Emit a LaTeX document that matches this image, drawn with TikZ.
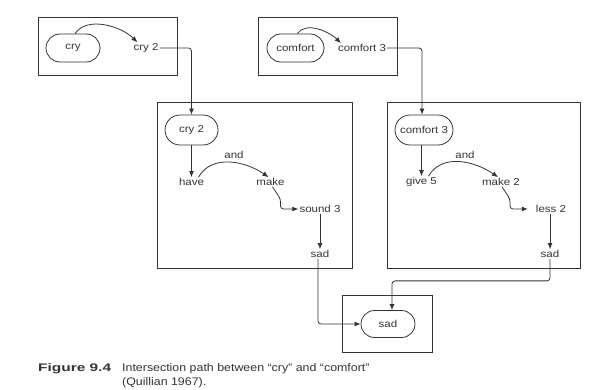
\documentclass[tikz,border=0pt]{standalone}
\usepackage{fontspec}
\setmainfont[FakeStretch=1.15]{Liberation Sans}
\usetikzlibrary{shapes.misc,arrows.meta,calc}
\definecolor{ink}{HTML}{333333}
\begin{document}
\begin{tikzpicture}[x=1pt,y=-1pt,
  frame/.style={draw=ink,line width=0.9pt,minimum width=#1},
  pill/.style={draw=ink,line width=0.8pt,rounded rectangle,minimum height=28pt,inner sep=2pt,text=ink},
  word/.style={inner sep=1pt,text=ink,font=\fontsize{10}{12}\selectfont},
  arr/.style={draw=ink,line width=0.8pt,-{Latex[length=6pt,width=5pt]},rounded corners=3pt},
  captext/.style={anchor=west,inner sep=0pt,text=ink,font=\fontsize{11}{13}\selectfont},
  font=\fontsize{10}{12}\selectfont]
\useasboundingbox (0,0) rectangle (591,390);
% boxes
\node[frame=139pt,minimum height=58pt] (b1) at (107.5,46) {};
\node[frame=139pt,minimum height=58pt] (b2) at (327.5,46) {};
\node[frame=195pt,minimum height=166pt] (b3) at (254.5,185) {};
\node[frame=193pt,minimum height=166pt] (b4) at (483.5,185) {};
\node[frame=90pt,minimum height=57pt] (b5) at (387,323.5) {};
% box 1
\node[pill,minimum width=58pt] (cry) at (73,48) {cry};
\node[word] (cry2) at (146,48) {cry 2};
\draw[arr] ($(cry.north)+(2,0)$) to[out=55,in=135,looseness=0.9] ([xshift=5pt]cry2.north west);
% box 2
\node[pill,minimum width=61pt] (comf) at (295.5,48) {comfort};
\node[word] (comf3) at (362,48) {comfort 3};
\draw[arr] ($(comf.north)+(2,0)$) to[out=55,in=135,looseness=0.9] ([xshift=4pt]comf3.north west);
% box 3
\node[pill,minimum width=57pt,minimum height=30pt] (cry2p) at (191.5,130) {cry 2};
\node[word] (have) at (191.5,182) {have};
\node[word] (and1) at (234,155) {and};
\node[word] (make) at (270.5,182) {make};
\node[word] (sound) at (320,209) {sound 3};
\node[word] (sad1) at (320,254) {sad};
% box 4
\node[pill,minimum width=62pt,minimum height=30pt] (com3p) at (424,130) {comfort 3};
\node[word] (give) at (421.5,182) {give 5};
\node[word] (and2) at (465,155) {and};
\node[word] (make2) at (501,182) {make 2};
\node[word] (less) at (551,209) {less 2};
\node[word] (sad2) at (550,254) {sad};
% box 5
\node[pill,minimum width=58pt,minimum height=27pt] (sadF) at (388,324) {sad};
% connectors
\draw[arr] (cry2.east) -| (cry2p.north);
\draw[arr] (comf3.east) -| ([xshift=-2pt]com3p.north);
\draw[arr] (cry2p.south) -- (have.north);
\draw[arr] (com3p.south -| give.north) -- (give.north);
\draw[arr] ($(have.north)+(7,0)$) to[out=60,in=145] ([xshift=-2pt]make.north);
\draw[arr] ($(give.north)+(7,0)$) to[out=60,in=145] ([xshift=-3pt]make2.north);
\draw[arr] ([xshift=2pt]make.south) -- ++(8,12) |- (sound.west);
\draw[arr] ([xshift=1pt]make2.south) -- ++(8,12) |- ([xshift=-7pt]less.west);
\draw[arr] (sound.south) -- (sad1.north);
\draw[arr] (less.south -| sad2) -- (sad2.north);
\draw[arr] ([xshift=-2pt]sad1.south) |- (sadF.west);
\draw[arr] (sad2.south) -- ++(0,22) -| ([xshift=4pt]sadF.north);
% caption
\node[captext] (figlab) at (38,369) {\scalebox{1.22}[1]{\bfseries Figure 9.4}};
\node[captext] (cap1) at (122,369) {\scalebox{0.98}[1]{Intersection path between “cry” and “comfort”}};
\node[captext] (cap2) at (122,382.5) {\scalebox{0.98}[1]{(Quillian 1967).}};
\end{tikzpicture}
\end{document}
